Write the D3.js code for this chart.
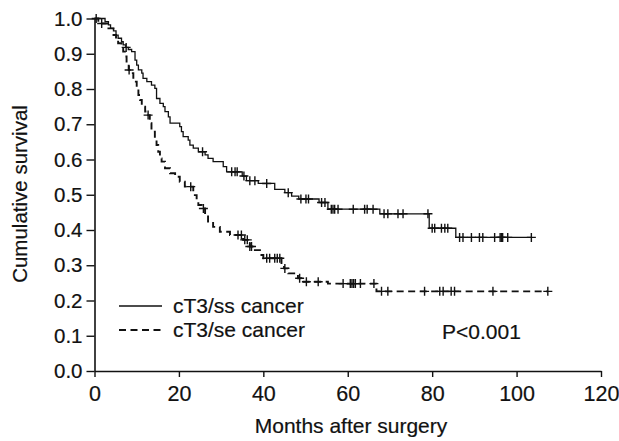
<!DOCTYPE html>
<html>
<head>
<meta charset="utf-8">
<script src="https://cdn.jsdelivr.net/npm/d3@7"></script>
<style>
  body { margin: 0; background: #fff; }
  #chart text { font-family: "Liberation Sans", Arial, sans-serif; fill: #111; stroke: #111; stroke-width: 0.2px; }
</style>
</head>
<body>
<div id="chart"></div>
<script>
// cT3/ss cancer: step times (months) and survival after each step
const ssTimes = [0, 2.5, 3.3, 3.8, 4.5, 5.1, 5.6, 6.4, 6.8, 7.4, 8.0, 8.8, 9.6, 10.0, 10.4, 11.2, 11.5, 12.4,
  13.5, 14.3, 14.7, 15.5, 16.3, 16.7, 17.5, 17.9, 20.2, 20.6, 21.0, 22.2, 22.6, 23.4, 24.6, 26.2, 26.9,
  28.1, 30.5, 31.3, 35.0, 36.0, 38.8, 42.7, 45.1, 46.7, 48.4, 53.2, 55.3, 67.6, 79.3, 85.6];
const ssSurv = [1.0, 0.991, 0.982, 0.972, 0.965, 0.953, 0.944, 0.934, 0.925, 0.918, 0.912, 0.906, 0.882, 0.868,
  0.854, 0.845, 0.83, 0.821, 0.811, 0.802, 0.773, 0.759, 0.75, 0.736, 0.721, 0.703, 0.693, 0.679, 0.665,
  0.655, 0.641, 0.632, 0.622, 0.613, 0.603, 0.594, 0.58, 0.565, 0.553, 0.54, 0.532, 0.515, 0.506, 0.496,
  0.488, 0.478, 0.459, 0.446, 0.405, 0.379];
const ssEnd = 103.5;
const ssCensored = [0.4, 7.5, 25.6, 32.5, 33.3, 33.8, 35.4, 36.8, 38.0, 40.8, 45.9, 48.9, 50.1, 50.7, 53.8,
  54.6, 56.1, 56.5, 56.9, 57.7, 61.3, 64.0, 64.6, 66.0, 68.6, 69.5, 71.9, 73.1, 79.0, 80.0, 80.6, 82.2,
  83.0, 83.7, 86.5, 87.3, 89.3, 91.2, 92.0, 94.8, 96.1, 96.4, 96.7, 97.9, 103.5];

// cT3/se cancer
const seTimes = [0, 0.9, 3.3, 4.5, 5.1, 5.6, 6.4, 6.8, 7.2, 7.6, 8.1, 8.6, 9.2, 10.0, 10.4, 10.8, 11.2, 12.0,
  12.5, 13.1, 13.5, 14.3, 14.7, 15.1, 15.5, 15.9, 16.7, 17.9, 19.1, 20.2, 21.4, 23.4, 24.2, 24.6, 25.4,
  26.2, 26.9, 28.1, 29.7, 32.1, 35.2, 36.8, 37.6, 39.2, 40.0, 44.3, 44.9, 45.9, 48.2, 49.0, 55.3, 66.8];
const seSurv = [1.0, 0.986, 0.972, 0.953, 0.939, 0.93, 0.925, 0.906, 0.892, 0.873, 0.854, 0.845, 0.821, 0.802,
  0.783, 0.769, 0.75, 0.736, 0.726, 0.703, 0.679, 0.655, 0.641, 0.622, 0.603, 0.594, 0.575, 0.561, 0.551,
  0.537, 0.523, 0.499, 0.485, 0.471, 0.461, 0.443, 0.424, 0.409, 0.395, 0.386, 0.372, 0.353, 0.343, 0.329,
  0.32, 0.306, 0.291, 0.277, 0.263, 0.253, 0.248, 0.226];
const seEnd = 107.4;
const seCensored = [1.7, 8.2, 12.7, 22.8, 25.8, 34.0, 34.8, 35.6, 36.2, 36.8, 37.2, 40.8, 41.5, 42.7, 43.3,
  43.9, 45.1, 48.6, 50.2, 53.0, 58.9, 60.6, 61.0, 61.4, 61.8, 63.0, 66.2, 68.0, 69.5, 78.2, 81.8, 82.6,
  84.5, 85.3, 94.4, 107.4];

const xTicks = [0, 20, 40, 60, 80, 100, 120];
const yTicks = [0, 0.1, 0.2, 0.3, 0.4, 0.5, 0.6, 0.7, 0.8, 0.9, 1.0];
const legendLabels = ['cT3/ss cancer', 'cT3/se cancer'];
const pValueLabel = 'P<0.001';

(($d3) => {
  const KM_CHART = {
    selector: '#chart',

    options: {
      width: 619,
      height: 441,
      margins: { top: 18.5, right: 18, bottom: 70, left: 94.5 },
      xMax: 120,
      dash: '7,4.5',
    },

    init: function () {
      const el = $d3.select(this.selector);
      if (el.empty()) {
        console.warn('init(): Element for "' + this.selector + '" selector not found');
        return;
      }
      this.draw();
    },

    // step function level at time t (used to place the censor crosses)
    levelAt: function (times, surv, t) {
      const i = $d3.bisectRight(times, t) - 1;
      return surv[Math.max(0, i)];
    },

    draw: function () {
      const self = this;
      const o = this.options;
      const W = o.width, H = o.height;
      const x0 = o.margins.left;
      const y0 = 371, y1 = o.margins.top;

      const xScale = $d3.scaleLinear().domain([0, o.xMax]).range([x0, 601]);
      const yScale = $d3.scaleLinear().domain([0, 1]).range([y0, y1]);

      const svg = $d3.select(this.selector).append('svg')
        .attr('xmlns', 'http://www.w3.org/2000/svg')
        .attr('width', W)
        .attr('height', H);

      // axes
      const gx = svg.append('g')
        .attr('transform', 'translate(0,' + y0 + ')')
        .call($d3.axisBottom(xScale).tickValues(xTicks).tickSize(6).tickSizeOuter(0).tickPadding(9)
          .tickFormat($d3.format('d')));
      const gy = svg.append('g')
        .attr('transform', 'translate(' + x0 + ',0)')
        .call($d3.axisLeft(yScale).tickValues(yTicks).tickSize(8).tickSizeOuter(0).tickPadding(4)
          .tickFormat($d3.format('.1f')));

      [gx, gy].forEach(function (g) {
        g.select('.domain').attr('stroke', '#111').attr('stroke-width', 1.6);
        g.selectAll('.tick line').attr('stroke', '#111').attr('stroke-width', 1.4);
        g.selectAll('.tick text').attr('fill', '#111').style('font-size', '21.5px');
      });
      gy.selectAll('.tick text').style('font-size', '20.5px');

      // axis titles
      svg.append('text')
        .attr('x', 351)
        .attr('y', 433)
        .attr('text-anchor', 'middle')
        .style('font-size', '21px')
        .text('Months after surgery');
      svg.append('text')
        .attr('transform', 'translate(27,194) rotate(-90)')
        .attr('text-anchor', 'middle')
        .style('font-size', '20.5px')
        .text('Cumulative survival');

      const line = $d3.line()
        .curve($d3.curveStepAfter)
        .x(function (d) { return xScale(d[0]); })
        .y(function (d) { return yScale(d[1]); });

      const series = [
        { times: ssTimes, surv: ssSurv, end: ssEnd, cens: ssCensored, dash: null, width: 1.3 },
        { times: seTimes, surv: seSurv, end: seEnd, cens: seCensored, dash: o.dash, width: 1.9 },
      ];

      series.forEach(function (s) {
        const pts = s.times.map(function (t, i) { return [t, s.surv[i]]; });
        pts.push([s.end, s.surv[s.surv.length - 1]]);

        svg.append('path')
          .attr('d', line(pts))
          .attr('fill', 'none')
          .attr('stroke', '#111')
          .attr('stroke-width', s.width)
          .attr('stroke-dasharray', s.dash);

        svg.append('g').selectAll('path')
          .data(s.cens)
          .enter()
          .append('path')
          .attr('d', function (t) {
            const cx = xScale(t), cy = yScale(self.levelAt(s.times, s.surv, t));
            return 'M' + (cx - 4.5) + ',' + cy + 'H' + (cx + 4.5) +
              'M' + cx + ',' + (cy - 4.5) + 'V' + (cy + 4.5);
          })
          .attr('stroke', '#111')
          .attr('stroke-width', 1.4)
          .attr('fill', 'none');
      });

      // legend
      const legend = svg.append('g');
      legend.selectAll('line')
        .data(series)
        .enter()
        .append('line')
        .attr('x1', 119)
        .attr('x2', 162)
        .attr('y1', function (d, i) { return 306 + i * 24; })
        .attr('y2', function (d, i) { return 306 + i * 24; })
        .attr('stroke', '#111')
        .attr('stroke-width', function (d) { return d.width; })
        .attr('stroke-dasharray', function (d) { return d.dash; });
      legend.selectAll('text')
        .data(legendLabels)
        .enter()
        .append('text')
        .attr('x', 173)
        .attr('y', function (d, i) { return 313 + i * 24; })
        .style('font-size', '21px')
        .text(function (d) { return d; });

      svg.append('text')
        .attr('x', 442)
        .attr('y', 339)
        .style('font-size', '21px')
        .text(pValueLabel);
    },
  };

  KM_CHART.init();
})(d3);
</script>
</body>
</html>
